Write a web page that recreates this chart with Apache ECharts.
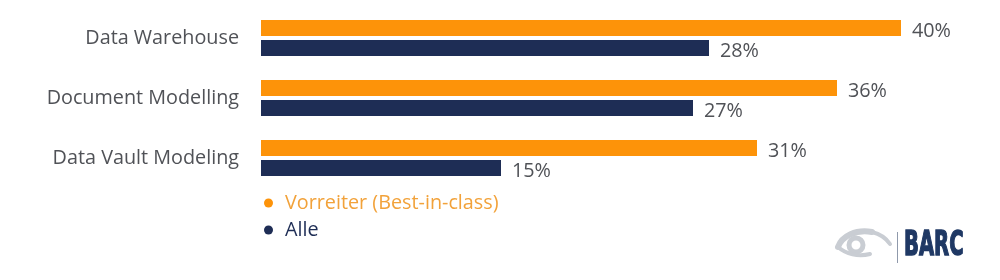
<!DOCTYPE html>
<html>
<head>
<meta charset="utf-8">
<script src="https://cdn.jsdelivr.net/npm/echarts@6/dist/echarts.min.js"></script>
<style>html,body{margin:0;padding:0;background:#fff;}#c{width:1000px;height:280px;}</style>
</head>
<body>
<div id="c"></div>
<script>
const categories = ['Data Warehouse', 'Document Modelling', 'Data Vault Modeling'];
const seriesNames = ['Vorreiter (Best-in-class)', 'Alle'];
const vorreiter = [40, 36, 31];
const alle = [28, 27, 15];

const ORANGE = '#FD9309';
const NAVY = '#1E2D55';
const FONT = '"Open Sans", "Noto Sans", sans-serif';
const TEXT = '#505257';
const FS = 19.8;

const chart = echarts.init(document.getElementById('c'), null, {renderer: 'canvas'});
chart.setOption({
  animation: false,
  backgroundColor: '#ffffff',
  grid: {left: 261, top: 8, width: 720, height: 180, containLabel: false},
  xAxis: {type: 'value', min: 0, max: 45, show: false},
  yAxis: {
    type: 'category', data: categories, inverse: true,
    axisLine: {show: false}, axisTick: {show: false},
    axisLabel: {margin: 22, fontFamily: FONT, fontSize: FS, color: TEXT}
  },
  legend: {
    orient: 'vertical', left: 259, top: 187, itemGap: 5,
    icon: 'circle', itemWidth: 9, itemHeight: 9,
    textStyle: {fontFamily: FONT, fontSize: FS, lineHeight: 22, padding: [0, 0, 0, 7]},
    data: [
      {name: seriesNames[0], textStyle: {color: '#F2A23A'}},
      {name: seriesNames[1], textStyle: {color: '#1E2D55'}}
    ]
  },
  series: [
    {
      name: seriesNames[0], type: 'bar', data: vorreiter, barWidth: 16, barGap: '25%',
      itemStyle: {color: ORANGE},
      label: {show: true, position: 'right', distance: 11, offset: [0, 3], formatter: '{c}%',
        fontFamily: FONT, fontSize: FS, color: TEXT}
    },
    {
      name: seriesNames[1], type: 'bar', data: alle, barWidth: 16, barGap: '25%',
      itemStyle: {color: NAVY},
      label: {show: true, position: 'right', distance: 11, offset: [0, 3], formatter: '{c}%',
        fontFamily: FONT, fontSize: FS, color: TEXT}
    }
  ],
  graphic: [
    {type: 'bezierCurve', shape: {x1: 838, y1: 247, cpx1: 842, cpy1: 236, cpx2: 856, cpy2: 229, x2: 872, y2: 232},
      style: {fill: null, stroke: '#c9cdd3', lineWidth: 6, lineCap: 'round'}},
    {type: 'bezierCurve', shape: {x1: 872, y1: 232, cpx1: 880, cpy1: 234, cpx2: 886, cpy2: 238, x2: 890, y2: 244},
      style: {fill: null, stroke: '#c9cdd3', lineWidth: 4, lineCap: 'round'}},
    {type: 'circle', shape: {cx: 856, cy: 245, r: 7}, style: {fill: null, stroke: '#c9cdd3', lineWidth: 5}},
    {type: 'bezierCurve', shape: {x1: 838, y1: 247, cpx1: 846, cpy1: 254, cpx2: 858, cpy2: 257, x2: 870, y2: 254},
      style: {fill: null, stroke: '#c9cdd3', lineWidth: 4, lineCap: 'round'}},
    {type: 'line', shape: {x1: 897.5, y1: 232, x2: 897.5, y2: 263}, style: {stroke: '#8f99ab', lineWidth: 1}},
    {type: 'text', x: 904, y: 229, scaleX: 0.64, scaleY: 1, originX: 0, originY: 0,
      style: {text: 'BARC', fill: '#1F3864', stroke: '#1F3864', lineWidth: 1.4,
      font: 'bold 34px "Liberation Sans Narrow", "DejaVu Sans Condensed", sans-serif'}}
  ]
});
</script>
</body>
</html>
